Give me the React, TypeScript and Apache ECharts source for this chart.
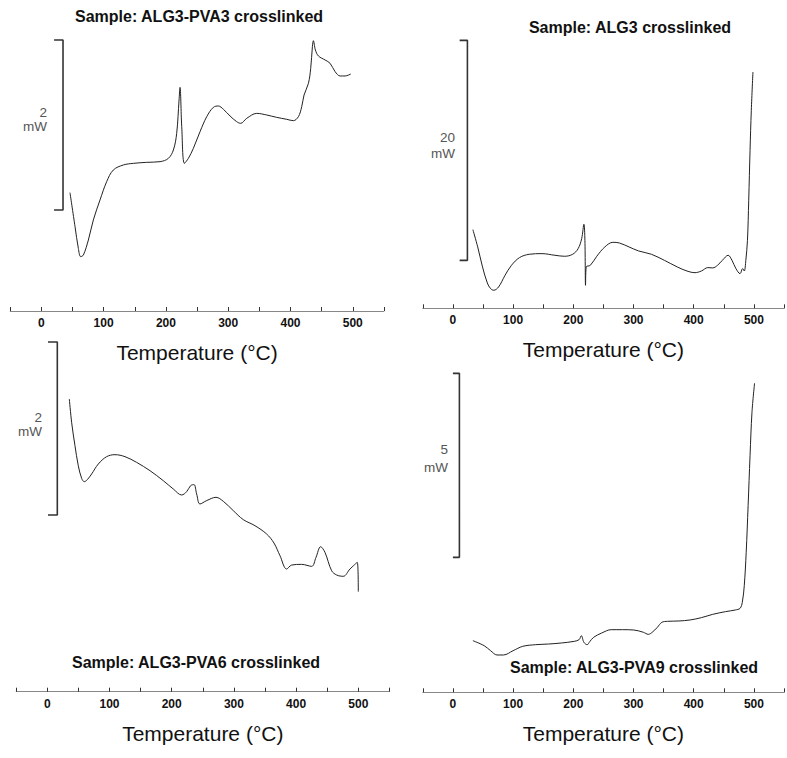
import React, { useEffect, useRef } from "react";
import * as echarts from "echarts";

// Temperature (°C) and heat flow (mW, arbitrary offset) for each DSC trace
const T1 = [46.0, 54.1, 59.4, 63.2, 67.5, 75.5, 83.5, 94.2, 104.9, 115.6, 131.7, 147.8, 169.2, 190.6, 204.0, 212.0, 217.3, 221.1, 222.7, 225.4, 229.7, 236.1, 244.1, 254.8, 265.5, 276.2, 284.3, 292.3, 303.0, 313.7, 320.1, 329.8, 345.8, 361.9, 377.9, 394.0, 404.7, 412.7, 418.1, 421.8, 428.8, 432.5, 435.2, 436.8, 440.0, 444.9, 455.6, 463.6, 471.6, 479.7, 487.7, 496.8];
const V1 = [1.392, 0.992, 0.737, 0.639, 0.659, 0.835, 1.071, 1.306, 1.522, 1.659, 1.718, 1.737, 1.749, 1.757, 1.796, 1.894, 2.090, 2.482, 2.631, 2.169, 1.737, 1.796, 1.914, 2.110, 2.286, 2.396, 2.412, 2.373, 2.294, 2.227, 2.208, 2.267, 2.325, 2.306, 2.278, 2.255, 2.239, 2.286, 2.404, 2.541, 2.678, 2.855, 3.110, 3.180, 3.071, 3.000, 2.953, 2.914, 2.816, 2.765, 2.765, 2.788];

const T2 = [33.2, 41.2, 49.2, 57.2, 62.6, 67.9, 75.9, 86.6, 97.3, 110.7, 126.7, 148.1, 169.5, 185.6, 198.9, 208.0, 213.9, 217.6, 219.3, 220.3, 221.4, 228.3, 239.0, 252.4, 265.8, 276.5, 292.5, 308.6, 329.9, 351.3, 372.7, 388.8, 402.1, 412.8, 423.5, 431.6, 439.6, 447.6, 457.2, 463.6, 470.1, 477.0, 481.3, 484.0, 486.6, 489.3, 491.4, 493.6, 495.7, 498.4];
const V2 = [7.15, 5.58, 3.76, 2.30, 1.79, 1.64, 1.94, 3.00, 3.91, 4.61, 4.91, 4.97, 4.82, 4.73, 4.91, 5.42, 6.33, 7.64, 6.18, 2.09, 3.76, 3.91, 4.73, 5.58, 6.00, 5.94, 5.58, 5.21, 4.91, 4.36, 3.76, 3.39, 3.24, 3.39, 3.70, 3.67, 3.91, 4.36, 4.82, 4.36, 3.61, 3.15, 3.61, 3.39, 4.36, 6.18, 9.82, 14.36, 18.00, 21.48];

const T3 = [35.4, 39.1, 44.5, 49.8, 55.2, 59.5, 64.3, 71.3, 82.0, 95.4, 108.8, 124.9, 143.6, 165.1, 186.5, 202.6, 216.0, 224.0, 230.4, 235.8, 240.1, 245.4, 256.2, 271.2, 283.0, 299.0, 315.1, 333.9, 352.6, 364.4, 374.1, 384.8, 392.8, 408.9, 425.0, 432.0, 439.4, 446.4, 457.1, 465.2, 475.9, 486.6, 498.4, 500.0];
const V3 = [3.384, 3.114, 2.844, 2.613, 2.467, 2.428, 2.451, 2.517, 2.632, 2.717, 2.740, 2.717, 2.651, 2.555, 2.439, 2.343, 2.274, 2.312, 2.382, 2.394, 2.286, 2.170, 2.209, 2.247, 2.201, 2.093, 1.989, 1.919, 1.823, 1.719, 1.572, 1.418, 1.464, 1.472, 1.449, 1.553, 1.676, 1.611, 1.399, 1.349, 1.334, 1.418, 1.495, 1.156];

const T4 = [33.2, 51.9, 62.6, 73.3, 84.0, 100.0, 116.0, 137.4, 158.8, 180.2, 201.6, 209.6, 213.4, 217.6, 223.0, 227.3, 233.7, 247.1, 263.1, 281.8, 300.5, 316.6, 324.6, 331.0, 339.6, 347.1, 356.7, 375.4, 394.1, 412.8, 431.6, 452.9, 469.0, 477.0, 480.7, 484.0, 487.2, 490.4, 493.6, 496.8, 501.1];
const V4 = [1.403, 1.267, 1.131, 1.014, 1.014, 1.131, 1.249, 1.294, 1.312, 1.340, 1.385, 1.430, 1.539, 1.358, 1.294, 1.376, 1.494, 1.611, 1.702, 1.702, 1.693, 1.630, 1.575, 1.630, 1.766, 1.902, 1.929, 1.938, 1.966, 2.029, 2.119, 2.192, 2.237, 2.282, 2.445, 2.898, 3.804, 5.072, 6.431, 7.608, 8.400];

const TITLES = ["Sample: ALG3-PVA3 crosslinked", "Sample: ALG3 crosslinked", "Sample: ALG3-PVA6 crosslinked", "Sample: ALG3-PVA9 crosslinked"];
const SCALE_MW = [2, 20, 2, 5];
const TICK_LABELS = [0, 100, 200, 300, 400, 500];
const X_MIN = -50;
const X_MAX = 550;
const X_STEP = 50;

const FONT = "'Liberation Sans', Arial, sans-serif";

export default function App() {
  const ref = useRef<HTMLDivElement>(null);
  useEffect(() => {
    document.body.style.margin = "0";
    if (!ref.current) return;
    const chart = echarts.init(ref.current, null, { renderer: "svg" });

    const grids = [
      { left: 10.2, top: 34.75, width: 373.7, height: 276.25, ymax: 3.25 },
      { left: 422.8, top: 33.3, width: 374.1, height: 275, ymax: 25 },
      { left: 16.2, top: 332.7, width: 373.2, height: 359, ymax: 4.15 },
      { left: 422.8, top: 368.5, width: 374.1, height: 323.8, ymax: 8.8 },
    ];
    // scale bar: x of bar, x of end ticks, top value (mW)
    const bars = [
      { x: 34.8, xt: 20.4, top: 3.188 },
      { x: 24.1, xt: 11.2, top: 24.36 },
      { x: 16.1, xt: 1.1, top: 4.043 },
      { x: 10.8, xt: 0, top: 8.668 },
    ];
    const traces = [
      [T1, V1],
      [T2, V2],
      [T3, V3],
      [T4, V4],
    ];

    const xAxis = grids.map((_, i) => ({
      type: "value",
      gridIndex: i,
      min: X_MIN,
      max: X_MAX,
      interval: X_STEP,
      position: "bottom",
      name: "Temperature (°C)",
      nameLocation: "middle",
      nameGap: 31,
      nameTextStyle: { fontFamily: FONT, fontSize: 21, color: "#111" },
      axisLine: { show: true, onZero: false, lineStyle: { color: "#888", width: 1 } },
      axisTick: { show: true, inside: true, length: 4, lineStyle: { color: "#333", width: 1 } },
      axisLabel: {
        margin: 6,
        fontFamily: FONT,
        fontSize: 12,
        fontWeight: "bold",
        color: "#111",
        showMinLabel: true,
        showMaxLabel: true,
        formatter: (v: number) => (TICK_LABELS.indexOf(v) >= 0 ? String(v) : ""),
      },
      splitLine: { show: false },
    }));
    const yAxis = grids.map((g, i) => ({
      type: "value",
      gridIndex: i,
      min: 0,
      max: g.ymax,
      show: false,
    }));

    const series: any[] = [];
    traces.forEach(([ts, vs], i) => {
      series.push({
        type: "line",
        xAxisIndex: i,
        yAxisIndex: i,
        data: ts.map((t, k) => [t, vs[k]]),
        showSymbol: false,
        smooth: 0.35,
        lineStyle: { color: "#222", width: 1 },
        silent: true,
      });
      const b = bars[i];
      const bottom = b.top - SCALE_MW[i];
      series.push({
        type: "line",
        xAxisIndex: i,
        yAxisIndex: i,
        data: [
          [b.xt, b.top],
          [b.x, b.top],
          [b.x, bottom],
          [b.xt, bottom],
        ],
        showSymbol: false,
        lineStyle: { color: "#333", width: 1.6 },
        silent: true,
      });
    });

    const titlePos = [
      [199, 16],
      [630, 27],
      [196, 662],
      [634, 667],
    ];
    const scaleLabelPos = [
      [47, 112, 126],
      [455, 137, 153],
      [42, 417, 431],
      [448, 449, 467],
    ];
    const graphic: any[] = [];
    TITLES.forEach((t, i) => {
      graphic.push({
        type: "text",
        x: titlePos[i][0],
        y: titlePos[i][1],
        style: {
          text: t,
          fontFamily: FONT,
          fontSize: 16,
          fontWeight: "bold",
          fill: "#111",
          textAlign: "center",
          textVerticalAlign: "middle",
        },
      });
      const [lx, y1, y2] = scaleLabelPos[i];
      graphic.push({
        type: "text",
        x: lx,
        y: y1,
        style: { text: String(SCALE_MW[i]), fontFamily: FONT, fontSize: 13.5, fill: "#555", textAlign: "right", textVerticalAlign: "middle" },
      });
      graphic.push({
        type: "text",
        x: lx,
        y: y2,
        style: { text: "mW", fontFamily: FONT, fontSize: 13.5, fill: "#555", textAlign: "right", textVerticalAlign: "middle" },
      });
    });

    chart.setOption({
      animation: false,
      backgroundColor: "#ffffff",
      grid: grids.map((g) => ({ left: g.left, top: g.top, width: g.width, height: g.height, containLabel: false })),
      xAxis,
      yAxis,
      series,
      graphic,
    });
    return () => chart.dispose();
  }, []);
  return <div ref={ref} style={{ width: 787, height: 758 }} />;
}
